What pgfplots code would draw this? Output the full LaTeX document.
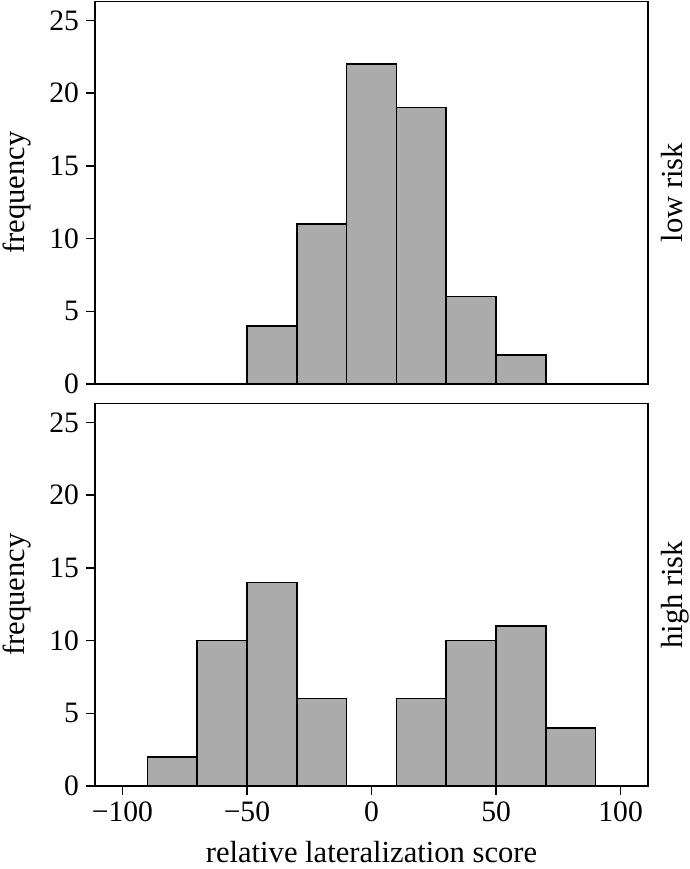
\documentclass[border=0pt]{standalone}
\usepackage{pgfplots}
\pgfplotsset{compat=1.18}
\usepackage{fontspec}
\setmainfont{Liberation Serif}
\definecolor{barfill}{HTML}{ABABAB}
\pgfplotsset{
  hist/.style={
    scale only axis,
    width=276.5pt, height=191.25pt,
    xmin=-111, xmax=111,
    ymin=0, ymax=26.3,
    ytick={0,5,10,15,20,25},
    tick align=outside,
    major tick length=4.5pt,
    xtick pos=bottom, ytick pos=left,
    axis line style={black, line width=0.75pt},
    every tick/.style={black, line width=0.75pt},
    tick label style={font=\fontsize{14.8}{17}\selectfont},
    label style={font=\fontsize{15.3}{18}\selectfont},
    /pgf/number format/assume math mode=true,
    ylabel={frequency},
    ylabel style={at={(axis description cs:-0.1266,0.5)}, anchor=base, rotate=0},
    clip=false,
  },
  bars/.style={ybar interval, fill=barfill, draw=black, line width=0.75pt},
}
\begin{document}
\begin{tikzpicture}
\path[use as bounding box] (-47.5pt,-41.5pt) rectangle (297.5pt,393pt);
% top panel: low risk
\begin{axis}[hist, at={(0pt,201pt)}, anchor=south west, xtick=\empty]
\addplot[bars] coordinates {(-50,4) (-30,11) (-10,22) (10,19) (30,6) (50,2) (70,2)};
\node[rotate=90, anchor=base, font=\fontsize{15.3}{18}\selectfont] at (rel axis cs:1.063,0.5) {low risk};
\end{axis}
% bottom panel: high risk
\begin{axis}[hist, at={(0pt,0pt)}, anchor=south west,
  xtick={-100,-50,0,50,100},
  xticklabels={−100,−50,0,50,100},
  xlabel={relative lateralization score},
  xlabel style={at={(axis description cs:0.5,-0.201)}, anchor=base}]
\addplot[bars] coordinates {(-90,2) (-70,10) (-50,14) (-30,6) (-10,6)};
\addplot[bars] coordinates {(10,6) (30,10) (50,11) (70,4) (90,4)};
\node[rotate=90, anchor=base, font=\fontsize{15.3}{18}\selectfont] at (rel axis cs:1.063,0.5) {high risk};
\end{axis}
\end{tikzpicture}
\end{document}
